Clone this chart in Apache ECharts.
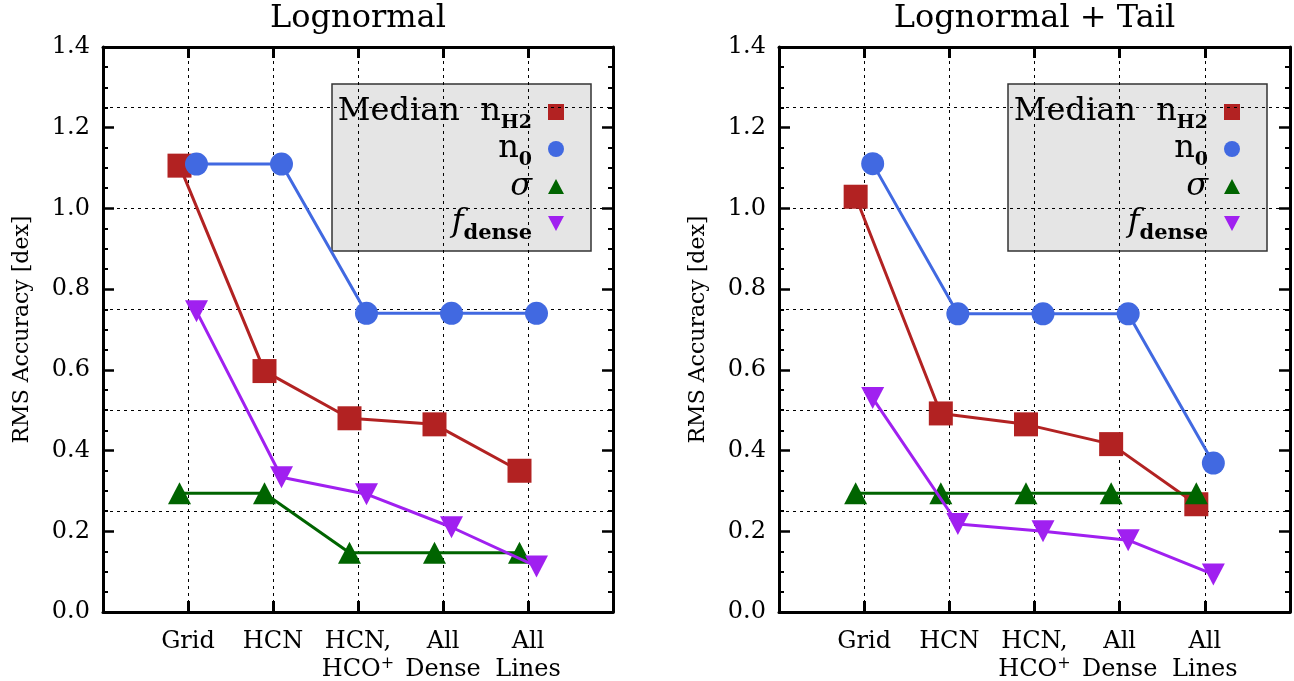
<!DOCTYPE html>
<html><head><meta charset="utf-8">
<script src="https://cdn.jsdelivr.net/npm/echarts@6/dist/echarts.min.js"></script>
<style>html,body{margin:0;padding:0;background:#fff}#c{width:1294px;height:681px}</style>
</head><body><div id="c"></div>
<script>
// ---------- data ----------
const categories = ['Grid', 'HCN', 'HCN,\nHCO+', 'All\nDense', 'All\nLines'];
const yTickLabels = ['0.0', '0.2', '0.4', '0.6', '0.8', '1.0', '1.2', '1.4'];
const panelTitles = ['Lognormal', 'Lognormal + Tail'];
const seriesNames = ['Median nH2', 'n0', 'σ', 'fdense'];
const yAxisTitle = 'RMS Accuracy [dex]';

const lognormalMedian = [1.106, 0.597, 0.480, 0.465, 0.350];
const lognormalN0     = [1.110, 1.110, 0.740, 0.740, 0.740];
const lognormalSigma  = [0.294, 0.294, 0.147, 0.147, 0.147];
const lognormalFdense = [0.745, 0.334, 0.292, 0.210, 0.113];

const tailMedian = [1.029, 0.492, 0.465, 0.416, 0.267];
const tailN0     = [1.111, 0.739, 0.739, 0.739, 0.369];
const tailSigma  = [0.294, 0.294, 0.294, 0.294, 0.294];
const tailFdense = [0.530, 0.218, 0.200, 0.178, 0.093];

// ---------- style ----------
const FONT = '"DejaVu Serif", serif';
const COLORS = ['#b22222', '#4169e1', '#006400', '#a020f0'];
const SYMBOLS = ['rect', 'circle', 'triangle', 'triangle'];
const ROTATE = [0, 0, 0, 180];
const SIZES = [24, 23, [23, 22], [23, 22]];
const NUDGE = [-0.1, 0.1, -0.1, 0.1];

const panels = [
  { left: 103, width: 510, data: [lognormalMedian, lognormalN0, lognormalSigma, lognormalFdense], legendX: 332 },
  { left: 779, width: 511, data: [tailMedian, tailN0, tailSigma, tailFdense], legendX: 1008 }
];
const TOP = 47, HEIGHT = 565;

const grids = [], xAxes = [], yAxes = [], series = [], graphics = [];

const dotted = { show: true, lineStyle: { type: [3, 4], color: '#000', width: 1 } };

panels.forEach((p, g) => {
  grids.push({ left: p.left, top: TOP, width: p.width, height: HEIGHT, containLabel: false, outerBoundsMode: 'none' });
  // bottom x
  xAxes.push({
    type: 'value', gridIndex: g, min: 0, max: 6, interval: 1, position: 'bottom',
    axisLine: { show: true, onZero: false, lineStyle: { color: '#000', width: 3 } },
    axisTick: { show: true, inside: true, length: 11, lineStyle: { color: '#000', width: 3 } },
    splitLine: dotted,
    axisLabel: {
      show: true, margin: 16, color: '#000', fontFamily: FONT, fontSize: 24, lineHeight: 28,
      formatter: v => {
        const c = categories[Math.round(v) - 1];
        if (!c) return '';
        return c.split('\n').map(line => {
          if (line.endsWith('+')) return '{t|' + line.slice(0, -1) + '}{sup|+}';
          return '{t|' + line + '}';
        }).join('\n');
      },
      rich: {
        t: { fontFamily: FONT, fontSize: 24, lineHeight: 28, color: '#000' },
        sup: { fontFamily: FONT, fontSize: 16, lineHeight: 14, verticalAlign: 'top', color: '#000' }
      }
    }
  });
  // top x
  xAxes.push({
    type: 'value', gridIndex: g, min: 0, max: 6, interval: 1, position: 'top',
    axisLine: { show: true, onZero: false, lineStyle: { color: '#000', width: 3 } },
    axisTick: { show: true, inside: true, length: 11, lineStyle: { color: '#000', width: 3 } },
    splitLine: { show: false }, axisLabel: { show: false }
  });
  // left y
  yAxes.push({
    type: 'value', gridIndex: g, min: 0, max: 1.4, interval: 0.2, position: 'left',
    axisLine: { show: true, onZero: false, lineStyle: { color: '#000', width: 3 } },
    axisTick: { show: true, inside: true, length: 11, lineStyle: { color: '#000', width: 2.5 } },
    minorTick: { show: true, splitNumber: 4, length: 5, lineStyle: { color: '#000', width: 2 } },
    splitLine: { show: false },
    axisLabel: {
      show: true, margin: 13, color: '#000', fontFamily: FONT, fontSize: 24,
      formatter: v => yTickLabels[Math.round(v / 0.2)] || ''
    },
    name: yAxisTitle, nameLocation: 'middle', nameGap: 70,
    nameTextStyle: { color: '#000', fontFamily: FONT, fontSize: 22 }
  });
  // right y
  yAxes.push({
    type: 'value', gridIndex: g, min: 0, max: 1.4, interval: 0.2, position: 'right',
    axisLine: { show: true, onZero: false, lineStyle: { color: '#000', width: 3 } },
    axisTick: { show: true, inside: true, length: 11, lineStyle: { color: '#000', width: 2.5 } },
    minorTick: { show: true, splitNumber: 4, length: 5, lineStyle: { color: '#000', width: 2 } },
    splitLine: { show: false }, axisLabel: { show: false }
  });
  // helper y for dotted horizontal grid lines
  yAxes.push({
    type: 'value', gridIndex: g, min: 0, max: 1.4, interval: 0.25, position: 'left',
    axisLine: { show: false }, axisTick: { show: false }, axisLabel: { show: false },
    splitLine: dotted
  });

  p.data.forEach((arr, k) => {
    series.push({
      type: 'line', name: seriesNames[k], xAxisIndex: g * 2, yAxisIndex: g * 3,
      data: arr.map((v, i) => [i + 1 + NUDGE[k], v]),
      symbol: SYMBOLS[k], symbolSize: SIZES[k], symbolRotate: ROTATE[k],
      showSymbol: true, clip: false, animation: false,
      itemStyle: { color: COLORS[k], opacity: 1 },
      lineStyle: { color: COLORS[k], width: 3 },
      emphasis: { disabled: true }, z: 3 + k
    });
  });

  // title
  graphics.push({
    type: 'text', x: p.left + p.width / 2, y: 3,
    style: { text: panelTitles[g], align: 'center', verticalAlign: 'top', fontFamily: FONT, fontSize: 32, fill: '#000' }
  });

  // legend box
  const bx = p.legendX, by = 84, bw = 259, bh = 167;
  const tx = bx + bw - 59, mx = bx + bw - 35;
  const rows = [by + 28, by + 65, by + 103, by + 139];
  const children = [
    { type: 'rect', shape: { x: bx, y: by, width: bw, height: bh }, style: { fill: '#e5e5e5', stroke: '#333', lineWidth: 1.5 } }
  ];
  const rich = {
    m: { fontFamily: FONT, fontSize: 32, lineHeight: 42, color: '#000' },
    s: { fontFamily: FONT, fontSize: 19, fontWeight: 'bold', lineHeight: 18, verticalAlign: 'bottom', color: '#000' },
    sb: { fontFamily: FONT, fontSize: 21, fontWeight: 'bold', lineHeight: 18, verticalAlign: 'bottom', color: '#000' },
    i: { fontFamily: FONT, fontSize: 32, fontStyle: 'italic', lineHeight: 42, color: '#000' }
  };
  const texts = ['{m|Median  n}{s|H2}', '{m|n}{s|0}', '{i|σ}', '{i|f}{sb|dense}'];
  texts.forEach((t, k) => {
    children.push({ type: 'text', x: tx, y: rows[k], style: { text: t, align: 'right', verticalAlign: 'middle', rich: rich } });
  });
  // legend markers
  children.push({ type: 'rect', shape: { x: mx - 8, y: rows[0] - 8, width: 16, height: 16 }, style: { fill: COLORS[0] } });
  children.push({ type: 'circle', shape: { cx: mx, cy: rows[1], r: 8 }, style: { fill: COLORS[1] } });
  children.push({ type: 'polygon', shape: { points: [[mx - 8, rows[2] + 7], [mx + 8, rows[2] + 7], [mx, rows[2] - 8]] }, style: { fill: COLORS[2] } });
  children.push({ type: 'polygon', shape: { points: [[mx - 8, rows[3] - 7], [mx + 8, rows[3] - 7], [mx, rows[3] + 8]] }, style: { fill: COLORS[3] } });
  graphics.push({ type: 'group', z: 20, children: children });
});

const chart = echarts.init(document.getElementById('c'), null, { renderer: 'canvas' });
chart.setOption({
  animation: false,
  backgroundColor: '#fff',
  grid: grids, xAxis: xAxes, yAxis: yAxes, series: series, graphic: graphics
});
</script></body></html>
